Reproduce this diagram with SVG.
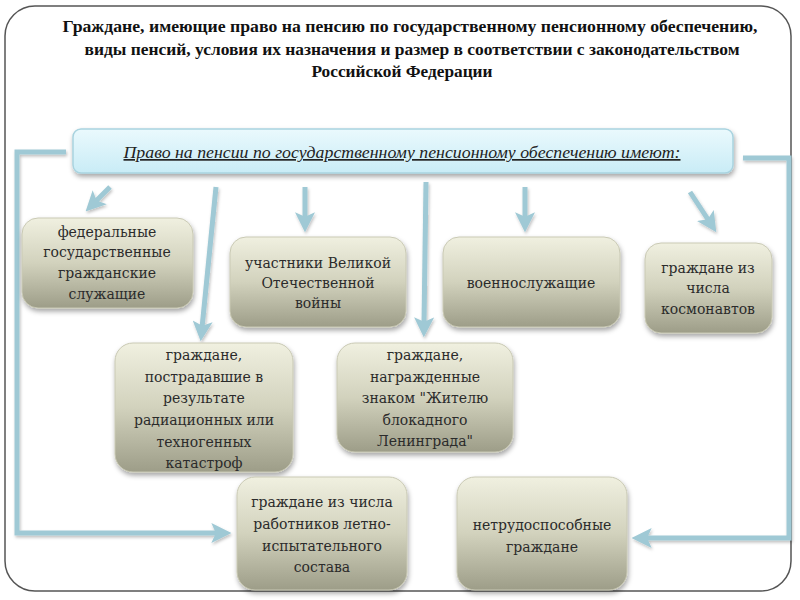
<svg xmlns="http://www.w3.org/2000/svg" width="800" height="600" viewBox="0 0 800 600">
<style>
.title{font-family:'Liberation Serif',serif;font-weight:bold;font-size:17px;fill:#111;text-anchor:middle}
.banner-text{font-family:'Times New Roman',serif;font-style:italic;font-size:17px;fill:#222;text-anchor:middle;text-decoration:underline}
.node rect{fill:url(#nodeGrad);stroke:#c9c9b4;stroke-width:1;filter:url(#shadow)}
.node text{font-family:'DejaVu Serif',serif;font-size:14px;fill:#2b2b2b;text-anchor:middle}
.conn{fill:none;stroke:#9fc9d5;stroke-width:5;filter:url(#ashadow)}
</style>
<defs>
<linearGradient id="nodeGrad" x1="0" y1="0" x2="0" y2="1">
<stop offset="0" stop-color="#f0f0e0"/>
<stop offset="0.5" stop-color="#d2d2bd"/>
<stop offset="1" stop-color="#9d9d88"/>
</linearGradient>
<linearGradient id="bannerGrad" x1="0" y1="0" x2="0" y2="1">
<stop offset="0" stop-color="#eaf9fd"/>
<stop offset="1" stop-color="#c9ecf6"/>
</linearGradient>
<filter id="shadow" x="-10%" y="-10%" width="125%" height="130%">
<feDropShadow dx="1" dy="3" stdDeviation="2.5" flood-color="#000" flood-opacity="0.35"/>
</filter>
<filter id="ashadow" filterUnits="userSpaceOnUse" x="0" y="0" width="800" height="600">
<feDropShadow dx="1" dy="2" stdDeviation="1.5" flood-color="#000" flood-opacity="0.25"/>
</filter>
<marker id="arr" markerUnits="userSpaceOnUse" markerWidth="20" markerHeight="20" viewBox="0 0 18 18" refX="6" refY="9" orient="auto">
<path d="M0,0 L18,9 L0,18 L4,9 z" fill="#9fc9d5"/>
</marker>
</defs>
<rect width="800" height="600" fill="#fff"/>
<rect x="5" y="6" width="786" height="585" rx="30" fill="none" stroke="#555" stroke-width="1.5"/>
<g id="title">
<text class="title" x="410" y="32" textLength="695" lengthAdjust="spacingAndGlyphs">Граждане, имеющие право на пенсию по государственному пенсионному обеспечению,</text>
<text class="title" x="412" y="55" textLength="655" lengthAdjust="spacingAndGlyphs">виды пенсий, условия их назначения и размер в соответствии с законодательством</text>
<text class="title" x="402" y="77" textLength="181" lengthAdjust="spacingAndGlyphs">Российской Федерации</text>
</g>
<g id="connectors">
<path class="conn" d="M66,152 H17 V533 H218" marker-end="url(#arr)"/>
<path class="conn" d="M743,158 H789 V538 H645" marker-end="url(#arr)"/>
<line class="conn" x1="110" y1="187" x2="95" y2="202" marker-end="url(#arr)"/>
<line class="conn" x1="216" y1="187" x2="202" y2="328" marker-end="url(#arr)"/>
<line class="conn" x1="305" y1="187" x2="305" y2="219" marker-end="url(#arr)"/>
<line class="conn" x1="426" y1="182" x2="424" y2="324" marker-end="url(#arr)"/>
<line class="conn" x1="525" y1="187" x2="525" y2="219" marker-end="url(#arr)"/>
<line class="conn" x1="690" y1="192" x2="709" y2="221" marker-end="url(#arr)"/>
</g>
<g id="banner">
<rect x="73" y="129" width="660" height="44" rx="8" fill="url(#bannerGrad)" stroke="#a9d3df" stroke-width="1.5" filter="url(#shadow)"/>
<text class="banner-text" x="402" y="158" textLength="557" lengthAdjust="spacingAndGlyphs">Право на пенсии по государственному пенсионному обеспечению имеют:</text>
</g>
<g id="n1" class="node">
<rect x="22" y="218" width="171" height="90" rx="16"/>
<text x="107" y="237">федеральные</text>
<text x="107" y="257">государственные</text>
<text x="107" y="278">гражданские</text>
<text x="107" y="299">служащие</text>
</g>
<g id="n2" class="node">
<rect x="230" y="237" width="176" height="90" rx="16"/>
<text x="318" y="268">участники Великой</text>
<text x="318" y="288">Отечественной</text>
<text x="318" y="308">войны</text>
</g>
<g id="n3" class="node">
<rect x="443" y="237" width="177" height="90" rx="16"/>
<text x="531" y="288">военнослужащие</text>
</g>
<g id="n4" class="node">
<rect x="645" y="243" width="127" height="90" rx="16"/>
<text x="708" y="273">граждане из</text>
<text x="708" y="293">числа</text>
<text x="708" y="314">космонавтов</text>
</g>
<g id="n5" class="node">
<rect x="115" y="343" width="178" height="129" rx="18"/>
<text x="204" y="360">граждане,</text>
<text x="204" y="382">пострадавшие в</text>
<text x="204" y="403">результате</text>
<text x="204" y="425">радиационных или</text>
<text x="204" y="447">техногенных</text>
<text x="204" y="468">катастроф</text>
</g>
<g id="n6" class="node">
<rect x="337" y="343" width="176" height="109" rx="18"/>
<text x="425" y="360">граждане,</text>
<text x="425" y="382">награжденные</text>
<text x="425" y="403">знаком "Жителю</text>
<text x="425" y="425">блокадного</text>
<text x="425" y="446">Ленинграда"</text>
</g>
<g id="n7" class="node">
<rect x="237" y="477" width="170" height="113" rx="18"/>
<text x="322" y="507">граждане из числа</text>
<text x="322" y="529">работников летно-</text>
<text x="322" y="551">испытательного</text>
<text x="322" y="572">состава</text>
</g>
<g id="n8" class="node">
<rect x="457" y="477" width="170" height="113" rx="18"/>
<text x="542" y="530">нетрудоспособные</text>
<text x="542" y="552">граждане</text>
</g>
</svg>
